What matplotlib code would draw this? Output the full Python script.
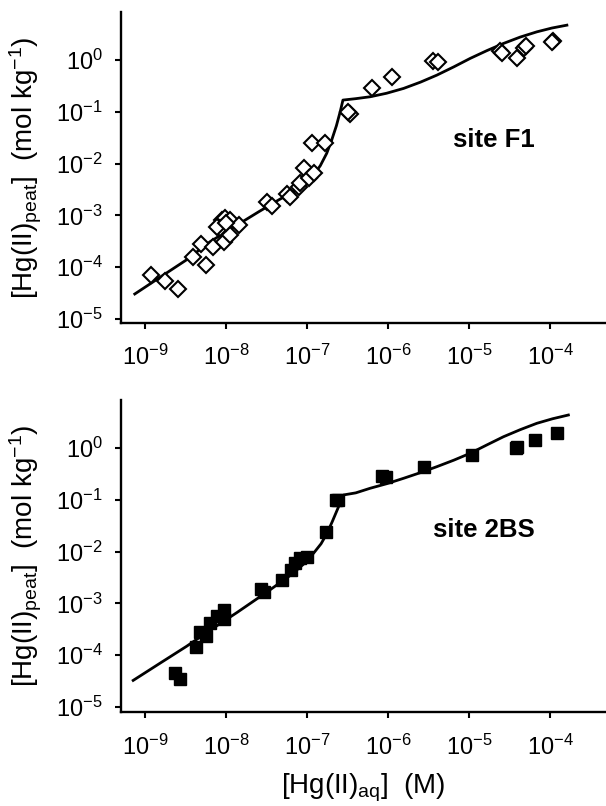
import numpy as np
import matplotlib
matplotlib.use("Agg")
import matplotlib.pyplot as plt

plt.rcParams['font.family'] = ['Liberation Sans', 'DejaVu Sans']
plt.rcParams['mathtext.fontset'] = 'custom'
plt.rcParams['mathtext.rm'] = 'Liberation Sans'
plt.rcParams['mathtext.it'] = 'Liberation Sans:italic'
plt.rcParams['mathtext.bf'] = 'Liberation Sans:bold'

# site F1 measurements (aqueous Hg in M, peat Hg in mol/kg)
f1_aq = [1.17e-9, 1.77e-9, 2.53e-9, 3.88e-9, 4.91e-9, 5.66e-9, 6.85e-9, 8.85e-9,
         9.72e-9, 1.12e-8, 1.42e-8, 9.27e-9, 8.43e-9, 1.12e-8, 7.67e-9, 1.0e-8,
         3.18e-8, 3.66e-8, 5.61e-8, 6.17e-8, 7.82e-8, 8.2e-8, 9.02e-8, 1.04e-7,
         1.20e-7, 1.14e-7, 1.67e-7, 3.33e-7, 3.2e-7, 6.30e-7, 1.11e-6, 3.6e-6,
         4.1e-6, 2.4e-5, 2.55e-5, 3.88e-5, 4.8e-5, 5.06e-5, 1.08e-4, 1.05e-4]
f1_peat = [7.06e-5, 5.50e-5, 3.79e-5, 1.55e-4, 2.81e-4, 1.10e-4, 2.42e-4, 8.15e-4,
           8.79e-4, 8.15e-4, 6.53e-4, 3.11e-4, 5.62e-4, 4.19e-4, 5.89e-4, 7.03e-4,
           1.84e-3, 1.54e-3, 2.59e-3, 2.30e-3, 3.59e-3, 4.17e-3, 8.11e-3, 5.20e-3,
           6.50e-3, 2.47e-2, 2.47e-2, 9.08e-2, 9.8e-2, 0.284, 0.476, 0.98,
           0.92, 1.5, 1.38, 1.08, 1.7, 1.85, 2.33, 2.2]

# site F1 model curve
f1_fit_aq = [7.41e-10, 1.58e-9, 3.16e-9, 6.31e-9, 1.26e-8, 2.51e-8, 4.47e-8, 6.76e-8,
             9.12e-8, 1.20e-7, 1.45e-7, 1.74e-7, 2.00e-7, 2.29e-7, 2.57e-7, 2.76e-7,
             3.98e-7, 6.0e-7, 9.55e-7, 1.55e-6, 2.51e-6, 3.99e-6, 6.46e-6, 1.03e-5,
             1.66e-5, 2.65e-5, 4.27e-5, 6.85e-5, 1.05e-4, 1.61e-4]
f1_fit_peat = [3.02e-5, 6.61e-5, 1.35e-4, 3.09e-4, 6.03e-4, 1.17e-3, 2.00e-3, 2.88e-3,
               3.98e-3, 6.03e-3, 9.12e-3, 1.58e-2, 2.82e-2, 5.37e-2, 0.105, 0.169,
               0.180, 0.196, 0.229, 0.284, 0.376, 0.513, 0.741, 1.08,
               1.53, 2.10, 2.79, 3.52, 4.17, 4.74]

# site 2BS measurements
bs_aq = [2.34e-9, 2.65e-9, 4.27e-9, 4.68e-9, 5.66e-9, 6.34e-9, 7.67e-9, 9.27e-9,
         9.44e-9, 2.68e-8, 2.89e-8, 4.88e-8, 6.30e-8, 7.11e-8, 8.20e-8, 9.91e-8,
         1.72e-7, 2.43e-7, 2.25e-7, 8.36e-7, 9.44e-7, 2.78e-6, 1.08e-5, 3.88e-5,
         3.8e-5, 6.53e-5, 1.21e-4]
bs_peat = [4.59e-5, 3.42e-5, 1.46e-4, 2.84e-4, 2.35e-4, 4.24e-4, 5.71e-4, 7.46e-4,
           4.93e-4, 1.87e-3, 1.68e-3, 2.83e-3, 4.42e-3, 5.94e-3, 7.43e-3, 7.98e-3,
           2.42e-2, 9.91e-2, 0.100, 0.288, 0.279, 0.436, 0.743, 1.06,
           0.98, 1.43, 1.92]

# site 2BS model curve
bs_fit_aq = [7.08e-10, 1.51e-9, 3.24e-9, 6.31e-9, 1.35e-8, 3.47e-8, 6.31e-8, 8.91e-8,
             1.20e-7, 1.48e-7, 1.74e-7, 2.04e-7, 2.34e-7, 2.60e-7, 2.81e-7, 3.98e-7,
             6.0e-7, 9.55e-7, 1.55e-6, 2.51e-6, 3.99e-6, 6.46e-6, 1.03e-5, 1.66e-5,
             2.65e-5, 4.27e-5, 6.85e-5, 1.07e-4, 1.68e-4]
bs_fit_peat = [3.24e-5, 6.92e-5, 1.48e-4, 3.02e-4, 6.61e-4, 1.82e-3, 3.55e-3, 5.62e-3,
               9.33e-3, 1.41e-2, 2.19e-2, 3.80e-2, 6.31e-2, 9.33e-2, 0.124, 0.136,
               0.167, 0.204, 0.260, 0.335, 0.436, 0.582, 0.791, 1.15,
               1.65, 2.26, 3.00, 3.67, 4.34]

xticks = [1e-9, 1e-8, 1e-7, 1e-6, 1e-5, 1e-4]
yticks = [1e-5, 1e-4, 1e-3, 1e-2, 1e-1, 1e0]

ylab = r'[Hg(II)$_{\mathregular{peat}}$]  (mol kg$^{\mathregular{-1}}$)'
xlab = r'[Hg(II)$_{\mathregular{aq}}$]  (M)'


def style(ax):
    ax.set_xscale('log')
    ax.set_yscale('log')
    ax.set_xlim(10**-9.30, 10**-3.31)
    ax.set_xticks(xticks)
    ax.set_yticks(yticks)
    ax.minorticks_off()
    for s in ['top', 'right']:
        ax.spines[s].set_visible(False)
    for s in ['left', 'bottom']:
        ax.spines[s].set_linewidth(1.7)
    ax.tick_params(direction='out', length=4, width=1.5, labelsize=17)
    ax.tick_params(axis='x', pad=12)
    ax.tick_params(axis='y', pad=9)
    ax.set_ylabel(ylab, fontsize=20)
    ax.yaxis.set_label_coords(-0.158, 0.5)


fig = plt.figure(figsize=(6.06, 8.06), dpi=100)

ax1 = fig.add_axes([0.1997, 0.5993, 0.8003, 0.3858])
ax1.plot(f1_fit_aq, f1_fit_peat, 'k-', lw=2.0, solid_joinstyle='round')
ax1.plot(f1_aq, f1_peat, 'D', ms=7.8, mfc='white', mec='black', mew=1.5, ls='none')
style(ax1)
ax1.set_ylim(10**-5.08, 10**0.93)
ax1.text(10**-4.69, 10**-1.545, 'site F1', fontsize=18.5, fontweight='bold',
         ha='center', va='center')

ax2 = fig.add_axes([0.1997, 0.1166, 0.8003, 0.3871])
ax2.plot(bs_fit_aq, bs_fit_peat, 'k-', lw=2.0, solid_joinstyle='round')
ax2.plot(bs_aq, bs_peat, 's', ms=9, mfc='black', mec='black', ls='none')
style(ax2)
ax2.set_ylim(10**-5.10, 10**0.927)
ax2.text(10**-4.815, 10**-1.583, 'site 2BS', fontsize=18.5, fontweight='bold',
         ha='center', va='center')
ax2.set_xlabel(xlab, fontsize=20)
ax2.xaxis.set_label_coords(0.5, -0.19)

fig.savefig('out.png', dpi=100)
